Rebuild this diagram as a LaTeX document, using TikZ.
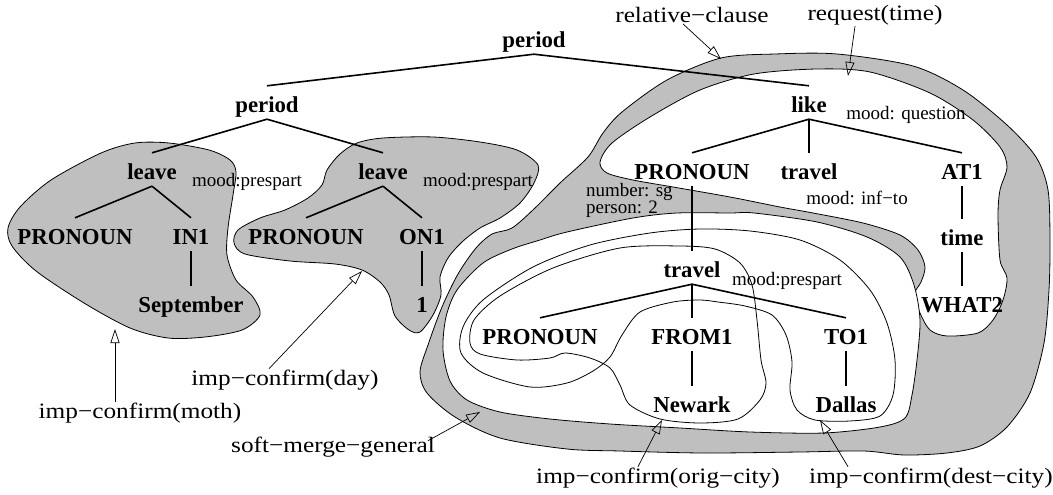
\documentclass[tikz,border=0pt]{standalone}
\usepackage{fontspec}
\setmainfont{Liberation Serif}
\newfontfamily\labfont[FakeStretch=1.15]{Liberation Serif}
\usetikzlibrary{arrows.meta}
\definecolor{blobgray}{RGB}{191,191,191}
\tikzset{
 tn/.style={font=\fontsize{22.8}{26}\selectfont\bfseries, anchor=base, text height=26.5pt, text depth=6.5pt, inner ysep=0pt, inner xsep=2pt},
 feat/.style={font=\fontsize{19}{17}\selectfont, inner sep=1pt},
 lab/.style={font=\labfont\fontsize{22}{24}\selectfont, inner sep=1pt},
 treeline/.style={line width=1.6pt},
 blob/.style={draw=black, line width=0.8pt, fill=blobgray},
 hole/.style={draw=black, line width=0.8pt, fill=white},
 contour/.style={draw=black, line width=0.8pt},
 pointer/.style={line width=0.7pt, -{Triangle[open, length=14pt, width=9pt]}},
}
\begin{document}
\begin{tikzpicture}[x=1pt, y=-1pt]
\useasboundingbox (0,0) rectangle (1053,495);
% blobs
\path[blob] plot[smooth cycle] coordinates {(135,143) (169,143) (209,150) (230,160) (236,172) (233,195) (228,228) (227,255) (236,280) (253,297) (260,315) (242,330) (205,337) (168,338) (130,328) (84,303) (36,271) (12,246) (8,228) (20,207) (51,180) (101,153)};
\path[blob] plot[smooth cycle] coordinates {(357,143) (383,138) (433,137) (480,142) (517,150) (538,165) (534,183) (520,203) (500,218) (480,228) (462,242) (448,258) (440,277) (441,295) (433,315) (420,332) (409,330) (395,316) (389,295) (380,282) (362,270) (335,264) (290,261) (245,254) (234,243) (238,230) (260,218) (285,210) (308,198) (322,185) (327,170) (340,154)};
\path[blob] plot[smooth cycle] coordinates {(721,58) (775,54) (837,54) (913,66) (963,90) (1007,125) (1036,157) (1048,190) (1050,240) (1049,290) (1044,343) (1030,393) (1007,427) (980,446) (947,453) (904,455) (864,451) (800,452) (703,453) (620,451) (567,449) (500,438) (455,417) (427,393) (420,372) (428,345) (442,307) (458,274) (476,248) (492,234) (512,228) (535,208) (560,183) (588,157) (603,133) (622,112) (667,80)};
\path[hole] plot[smooth cycle] coordinates {(600,162) (612,143) (650,117) (700,90) (754,74) (817,69) (870,72) (930,93) (973,120) (1000,147) (1007,167) (1000,190) (998,215) (1000,260) (1007,278) (1003,300) (993,320) (978,333) (947,336) (930,330) (920,313) (914,295) (921,282) (925,267) (918,250) (900,235) (863,223) (813,213) (780,207) (730,197) (673,187) (633,180) (607,173)};
\path[hole] plot[smooth cycle] coordinates {(677,213) (730,213) (754,213) (817,222) (867,237) (900,257) (914,285) (920,320) (917,360) (912,395) (905,418) (880,427) (824,433) (750,432) (680,428) (610,424) (550,419) (500,412) (467,400) (450,381) (443,350) (446,317) (457,290) (483,263) (512,249) (540,240) (567,232) (633,218)};
\path[contour] plot[smooth cycle] coordinates {(700,300) (673,302) (640,312) (622,335) (610,357) (593,371) (567,383) (530,387) (483,373) (461,353) (463,327) (483,300) (533,267) (590,245) (650,233) (700,229) (750,231) (800,240) (840,260) (870,290) (887,323) (895,360) (893,395) (880,416) (850,421) (815,420) (797,410) (790,390) (792,362) (786,335) (772,315) (745,306) (718,302)};
\path[contour] plot[smooth cycle] coordinates {(470,343) (480,354) (517,360) (550,358) (565,353) (590,358) (610,368) (620,385) (630,405) (660,419) (700,423) (738,419) (760,400) (766,383) (761,360) (757,320) (752,285) (740,263) (715,249) (680,246) (620,248) (553,268) (500,296) (474,320)};
% tree nodes
\node[tn] (p0) at (534,47.5) {period};
\node[tn] (p1) at (267,112.5) {period};
\node[tn] (lvA) at (152,179.5) {leave};
\node[tn] (lvB) at (383,179.5) {leave};
\node[tn] (prA) at (75,244.5) {PRONOUN};
\node[tn] (in1) at (191,244.5) {IN1};
\node[tn] (prB) at (306,244.5) {PRONOUN};
\node[tn] (on1) at (422,244.5) {ON1};
\node[tn] (sep) at (191,312.5) {September};
\node[tn] (one) at (422,312.5) {1};
\node[tn] (like) at (809,112.5) {like};
\node[tn] (prC) at (692,179.5) {PRONOUN};
\node[tn] (trA) at (809,179.5) {travel};
\node[tn] (at1) at (962,179.5) {AT1};
\node[tn] (time) at (962,245.5) {time};
\node[tn] (wh2) at (962,312.5) {WHAT2};
\node[tn] (trB) at (692,277.5) {travel};
\node[tn] (prD) at (540,344.5) {PRONOUN};
\node[tn] (from) at (692,344.5) {FROM1};
\node[tn] (to1) at (846,344.5) {TO1};
\node[tn] (nwk) at (692,412.5) {Newark};
\node[tn] (dal) at (846,412.5) {Dallas};
% features
\node[feat] (mA) at (247,182) {mood:prespart};
\node[feat] (mB) at (478,182) {mood:prespart};
\node[feat] (mQ) at (906,115) {mood: question};
\node[feat, align=left, anchor=west] (ns) at (585,200.5) {number: sg\\person: 2};
\node[feat] (mI) at (857,198) {mood: inf−to};
\node[feat] (mP) at (787,281) {mood:prespart};
% tree lines
\draw[treeline] (p0.south) -- (p1.north);
\draw[treeline] (p0.south) -- (like.north);
\draw[treeline] (p1.south) -- (lvA.north);
\draw[treeline] (p1.south) -- (lvB.north);
\draw[treeline] (lvA.south) -- (prA.north);
\draw[treeline] (lvA.south) -- (in1.north);
\draw[treeline] (in1.south) -- (sep.north);
\draw[treeline] (lvB.south) -- (prB.north);
\draw[treeline] (lvB.south) -- (on1.north);
\draw[treeline] (on1.south) -- (one.north);
\draw[treeline] (like.south) -- (prC.north);
\draw[treeline] (like.south) -- (trA.north);
\draw[treeline] (like.south) -- (at1.north);
\draw[treeline] (at1.south) -- (time.north);
\draw[treeline] (time.south) -- (wh2.north);
\draw[treeline] (prC.south) -- (trB.north);
\draw[treeline] (trB.south) -- (prD.north);
\draw[treeline] (trB.south) -- (from.north);
\draw[treeline] (trB.south) -- (to1.north);
\draw[treeline] (from.south) -- (nwk.north);
\draw[treeline] (to1.south) -- (dal.north);
% labels
\node[lab] (lrel) at (692,15) {relative−clause};
\node[lab] (lreq) at (875,15) {request(time)};
\node[lab] (lmoth) at (140,413) {imp−confirm(moth)};
\node[lab] (lday) at (285,380) {imp−confirm(day)};
\node[lab] (lsoft) at (333,447) {soft−merge−general};
\node[lab] (lorig) at (658,478) {imp−confirm(orig−city)};
\node[lab] (ldest) at (931,478) {imp−confirm(dest−city)};
\coordinate (tRel) at (721,59);
\coordinate (tReq) at (848,76);
\coordinate (tMoth) at (115,329);
\coordinate (tDay) at (362,271);
\coordinate (tSoft) at (480,412);
\coordinate (tOrig) at (662,420);
\coordinate (tDest) at (820,420);
\draw[pointer] ([xshift=-9pt]lrel.south) -- (tRel);
\draw[pointer] ([xshift=-20pt]lreq.south) -- (tReq);
\draw[pointer] (lmoth.north -| tMoth) -- (tMoth);
\draw[pointer] ([xshift=-16pt]lday.north) -- (tDay);
\draw[pointer] ([xshift=-8pt,yshift=-5pt]lsoft.north east) -- (tSoft);
\draw[pointer] ([xshift=-20pt]lorig.north) -- (tOrig);
\draw[pointer] ([xshift=-83pt]ldest.north) -- (tDest);
\end{tikzpicture}
\end{document}
